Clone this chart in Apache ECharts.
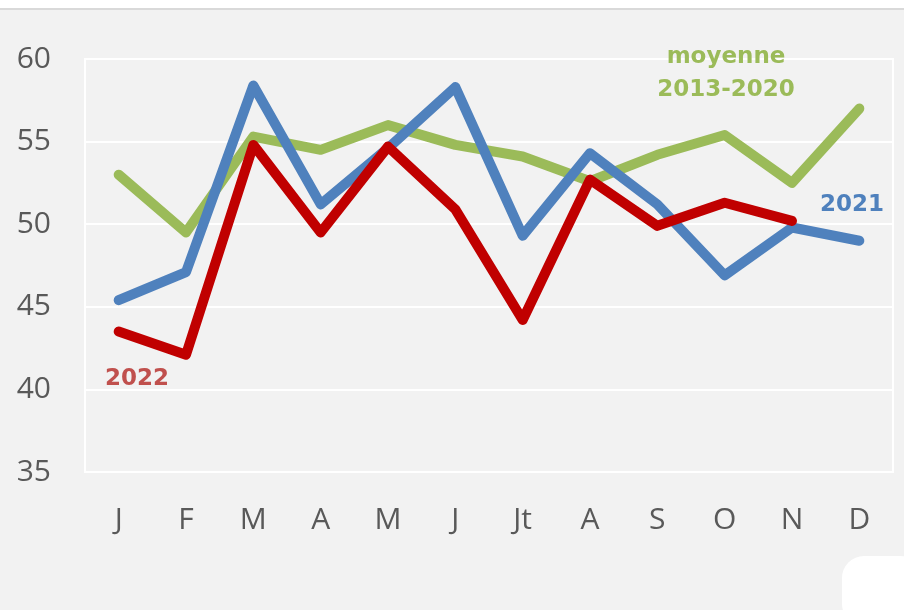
<!DOCTYPE html>
<html>
<head>
<meta charset="utf-8">
<script src="https://cdn.jsdelivr.net/npm/echarts@6/dist/echarts.min.js"></script>
<style>
  html, body { margin: 0; padding: 0; background: #f2f2f2; }
  #chart { width: 904px; height: 610px; }
</style>
</head>
<body>
<div id="chart"></div>
<script>
const months = ["J", "F", "M", "A", "M", "J", "Jt", "A", "S", "O", "N", "D"];
const moyenne = [53.0, 49.5, 55.3, 54.5, 56.0, 54.8, 54.1, 52.6, 54.2, 55.4, 52.5, 57.0];
const y2021 = [45.4, 47.1, 58.4, 51.2, 54.6, 58.3, 49.3, 54.3, 51.2, 46.9, 49.8, 49.0];
const y2022 = [43.5, 42.1, 54.8, 49.5, 54.7, 50.9, 44.2, 52.7, 49.9, 51.3, 50.2];

const chart = echarts.init(document.getElementById("chart"));

const lineSeries = (name, data, color) => ({
  name: name,
  type: "line",
  data: data,
  symbol: "none",
  lineStyle: { color: color, width: 10, cap: "round", join: "round" },
  itemStyle: { color: color },
});

chart.setOption({
  backgroundColor: "#f2f2f2",
  animation: false,
  grid: { left: 85, right: 11, top: 59, bottom: 138 },
  xAxis: {
    type: "category",
    data: months,
    boundaryGap: true,
    axisLine: { show: false },
    axisTick: { show: false },
    axisLabel: {
      color: "#595959",
      fontSize: 30,
      fontFamily: "Open Sans",
      margin: 33,
    },
  },
  yAxis: {
    type: "value",
    min: 35,
    max: 60,
    interval: 5,
    axisLine: { show: false },
    axisTick: { show: false },
    axisLabel: {
      color: "#595959",
      fontSize: 30,
      fontFamily: "Open Sans",
      margin: 34,
    },
    splitLine: { lineStyle: { color: "#ffffff", width: 2 } },
  },
  graphic: [
    { type: "rect", shape: { x: 0, y: 0, width: 904, height: 8 }, style: { fill: "#ffffff" }, z: 0 },
    { type: "rect", shape: { x: 0, y: 8, width: 904, height: 2 }, style: { fill: "#d9d9d9" }, z: 0 },
    { type: "rect", shape: { x: 85, y: 59, width: 808, height: 413 }, style: { fill: "none", stroke: "#ffffff", lineWidth: 2 }, z: 0 },
    {
      type: "text", x: 726, y: 41, z: 100,
      style: { text: "moyenne\n2013-2020", fill: "#9bbb59", font: "bold 23px 'DejaVu Sans'", align: "center", lineHeight: 33 },
    },
    { type: "text", x: 820, y: 194, z: 100, style: { text: "2021", fill: "#4f81bd", font: "bold 23px 'DejaVu Sans'" } },
    { type: "text", x: 105, y: 368, z: 100, style: { text: "2022", fill: "#c0504d", font: "bold 23px 'DejaVu Sans'" } },
    { type: "rect", shape: { x: 842, y: 556, width: 80, height: 70, r: 22 }, style: { fill: "#ffffff" }, z: 0 },
  ],
  series: [
    lineSeries("moyenne 2013-2020", moyenne, "#9bbb59"),
    lineSeries("2021", y2021, "#4f81bd"),
    lineSeries("2022", y2022, "#c00000"),
  ],
});
</script>
</body>
</html>
